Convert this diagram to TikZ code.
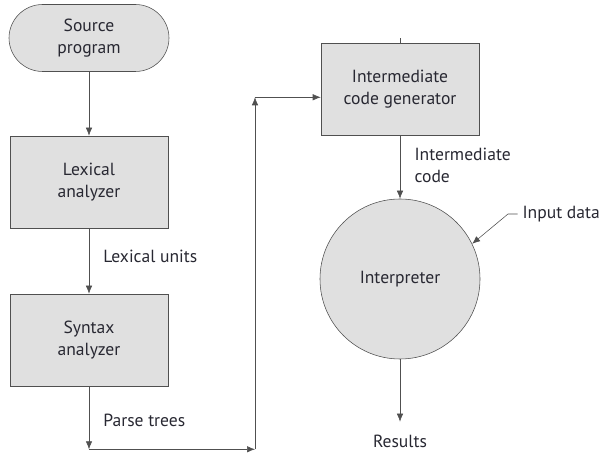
\documentclass[tikz,border=0pt]{standalone}
\usepackage{fontspec}
\setmainfont{PT Sans}
\usepackage{xcolor}
\usetikzlibrary{shapes, arrows.meta, positioning}
\definecolor{boxfill}{RGB}{224,224,224}
\definecolor{edge}{RGB}{80,80,80}
\definecolor{txt}{RGB}{40,40,50}

\begin{document}
\begin{tikzpicture}[
		every node/.style = {font=\fontsize{12.5}{15.5}\selectfont},
		box/.style = {draw=edge, fill=boxfill, minimum width=3.95cm, minimum height=2.3cm, align=center, text=txt},
		lbl/.style = {text=txt, align=left},
		flow/.style = {draw=edge, -{Latex[length=2mm, width=1.6mm]}}
	]
	\useasboundingbox (0,0) rectangle (15.1,11.35);
	
	\node [box, rounded corners=0.84cm, minimum width=4cm, minimum height=1.675cm] (SRC) at (2.225,10.4) {Source\\program};
	\node [box] (LEX) at (2.225,6.8) {Lexical\\analyzer};
	\node [box] (SYN) at (2.225,2.85) {Syntax\\analyzer};
	\node [box] (ICG) at (10,9.125) {Intermediate\\code generator};
	\node [box, circle, minimum size=4cm] (INTERP) at (10,4.375) {Interpreter};
	
	\node [lbl, anchor=west] (LU) at (2.46,4.95) {Lexical units};
	\node [lbl, anchor=west] (PT) at (2.46,0.85) {Parse trees};
	\node [lbl, anchor=west] (IC) at (10.24,7.225) {Intermediate\\code};
	\node [lbl, anchor=west] (INP) at (12.94,6.0) {Input data};
	\node [lbl] (RES) at (10,0.325) {Results};
	
	\draw [flow] (SRC) -- (LEX);
	\draw [flow] (LEX) -- (SYN);
	
	\draw [flow] (SYN.south) --++ (0,-1.575) coordinate (C1);
	\draw [flow] (C1) --++ (4.15,0) coordinate (C2);
	\draw [flow] (C2) --++ (0,8.8) coordinate (C3);
	\draw [flow] (C3) -- (C3 -| ICG.west);
	
	\draw [edge] (ICG.north) --++ (0,0.12);
	\draw [flow] (ICG) -- (INTERP);
	\draw [flow] (INP.west) --++ (-0.24,0) -- (INTERP.26);
	\draw [flow, shorten >=0.2cm] (INTERP) -- (RES);
\end{tikzpicture}
\end{document}
